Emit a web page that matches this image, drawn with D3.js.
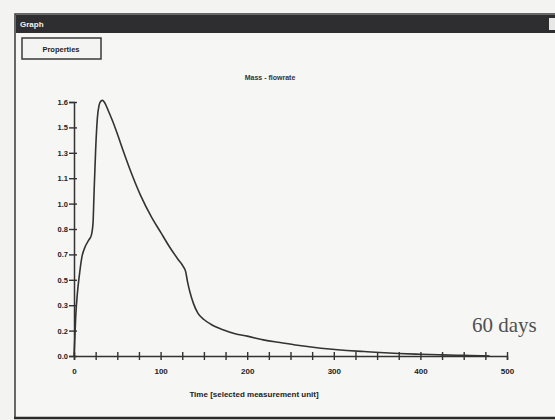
<!DOCTYPE html>
<html>
<head>
<meta charset="utf-8">
<script src="https://cdn.jsdelivr.net/npm/d3@7"></script>
<style>
  body { margin: 0; background: #f3f3f1; }
  svg { display: block; }
</style>
</head>
<body>
<div id="chart"></div>
<script>
// values
const timeValues = [0, 1, 2, 4, 6, 9, 13, 17, 20, 22, 23, 25, 27, 29, 31, 33, 36, 40, 46, 50, 57, 65, 77, 90, 100, 110, 120, 126, 129, 131, 134, 138, 143, 150, 158, 172, 186, 200, 220, 238, 258, 276, 295, 315, 335, 353, 375, 400, 425, 450, 470, 480];
const flowValues = [0, 0.12, 0.25, 0.40, 0.50, 0.62, 0.69, 0.73, 0.76, 0.84, 1.00, 1.30, 1.50, 1.58, 1.605, 1.61, 1.59, 1.54, 1.46, 1.40, 1.29, 1.17, 1.01, 0.87, 0.78, 0.69, 0.61, 0.565, 0.53, 0.47, 0.40, 0.33, 0.27, 0.23, 0.20, 0.165, 0.14, 0.125, 0.10, 0.085, 0.068, 0.055, 0.044, 0.035, 0.028, 0.022, 0.016, 0.011, 0.007, 0.004, 0.002, 0];
const yTickLabels = ["0.0", "0.2", "0.3", "0.5", "0.7", "0.8", "1.0", "1.1", "1.3", "1.5", "1.6"];
const xTickLabels = [0, 100, 200, 300, 400, 500];
const xMinorStep = 25;

const W = 555, H = 420;
const svg = d3.select("#chart").append("svg")
  .attr("width", W)
  .attr("height", H);

// window frame
svg.append("rect")
  .attr("x", 15).attr("y", 14)
  .attr("width", 560).attr("height", 404)
  .attr("fill", "#f6f6f4")
  .attr("stroke", "#3a3a3a")
  .attr("stroke-width", 1.5);

svg.append("line")
  .attr("x1", 14).attr("x2", 555)
  .attr("y1", 418).attr("y2", 418)
  .attr("stroke", "#2b2b2b")
  .attr("stroke-width", 2.5);

// title bar
svg.append("rect")
  .attr("x", 16).attr("y", 15)
  .attr("width", 545).attr("height", 18)
  .attr("fill", "#2e2e30");

svg.append("text")
  .attr("x", 20).attr("y", 27)
  .attr("fill", "#f2f2f2")
  .attr("font-family", "Arial, sans-serif")
  .attr("font-size", 8)
  .attr("font-weight", "bold")
  .text("Graph");

svg.append("rect")
  .attr("x", 549).attr("y", 18)
  .attr("width", 10).attr("height", 12)
  .attr("fill", "#e8e8e6");

// Properties button
svg.append("rect")
  .attr("x", 22).attr("y", 38)
  .attr("width", 79).attr("height", 21)
  .attr("fill", "#f4f4f2")
  .attr("stroke", "#3a3a3a")
  .attr("stroke-width", 1.5);

svg.append("text")
  .attr("x", 61).attr("y", 51.5)
  .attr("text-anchor", "middle")
  .attr("fill", "#222")
  .attr("font-family", "Arial, sans-serif")
  .attr("font-size", 7.5)
  .attr("font-weight", "bold")
  .text("Properties");

// plot area
const x = d3.scaleLinear()
  .domain([0, 500])
  .range([74, 507]);

const y = d3.scaleLinear()
  .domain([0, 1.6])
  .range([356, 102]);

svg.append("text")
  .attr("x", 270).attr("y", 80)
  .attr("text-anchor", "middle")
  .attr("fill", "#333")
  .attr("font-family", "Arial, sans-serif")
  .attr("font-size", 7)
  .attr("font-weight", "bold")
  .text("Mass - flowrate");

// y axis with evenly spaced ticks
const yTicks = yTickLabels.map((d, i) => i * 1.6 / (yTickLabels.length - 1));

const yAxis = svg.append("g")
  .attr("transform", `translate(${x(0)},0)`)
  .call(d3.axisLeft(y)
    .tickValues(yTicks)
    .tickFormat((d, i) => yTickLabels[i])
    .tickSize(5)
    .tickPadding(3));

yAxis.select(".domain").attr("stroke", "#333").attr("stroke-width", 1.5);
yAxis.selectAll(".tick line")
  .attr("x2", 3).attr("x1", -5)
  .attr("stroke", "#333").attr("stroke-width", 1.4);
yAxis.selectAll(".tick text")
  .attr("x", -6)
  .attr("fill", "#222")
  .attr("font-family", "Arial, sans-serif")
  .attr("font-size", 7.5)
  .attr("font-weight", "bold");

// x axis: minor ticks every 25, labels every 100
const xTicks = d3.range(0, 500 + xMinorStep, xMinorStep);

const xAxis = svg.append("g")
  .attr("transform", `translate(0,${y(0)})`)
  .call(d3.axisBottom(x)
    .tickValues(xTicks)
    .tickFormat(d => xTickLabels.includes(d) ? d : "")
    .tickSize(4)
    .tickPadding(8));

xAxis.select(".domain").attr("stroke", "#333").attr("stroke-width", 1.5);
xAxis.selectAll(".tick line")
  .attr("y1", -4).attr("y2", 4)
  .attr("stroke", "#333").attr("stroke-width", 1.4);
xAxis.selectAll(".tick text")
  .attr("fill", "#222")
  .attr("font-family", "Arial, sans-serif")
  .attr("font-size", 8)
  .attr("font-weight", "bold");

svg.append("text")
  .attr("x", 254).attr("y", 397)
  .attr("text-anchor", "middle")
  .attr("fill", "#222")
  .attr("font-family", "Arial, sans-serif")
  .attr("font-size", 8)
  .attr("font-weight", "bold")
  .text("Time [selected measurement unit]");

// curve
const points = timeValues.map((t, i) => ({ t, v: flowValues[i] }));

const line = d3.line()
  .x(d => x(d.t))
  .y(d => y(d.v))
  .curve(d3.curveMonotoneX);

svg.append("path")
  .datum(points)
  .attr("fill", "none")
  .attr("stroke", "#333")
  .attr("stroke-width", 1.6)
  .attr("d", line);

// annotation
svg.append("text")
  .attr("x", 472).attr("y", 332)
  .attr("fill", "#505050")
  .attr("font-family", "'Liberation Serif', 'DejaVu Serif', serif")
  .attr("font-size", 21)
  .text("60 days");
</script>
</body>
</html>
